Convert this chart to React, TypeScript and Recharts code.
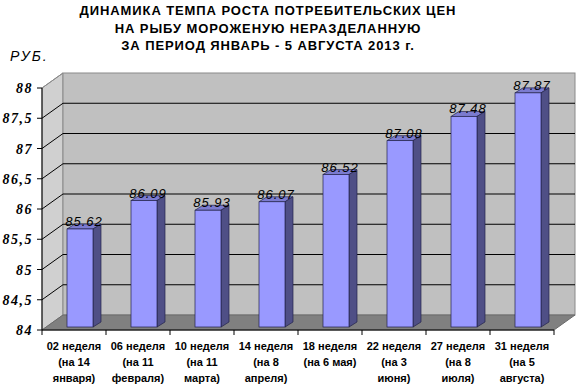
import { BarChart, Bar, XAxis, YAxis, CartesianGrid, ReferenceArea, LabelList } from 'recharts';

const WEEKS = ['02 неделя', '06 неделя', '10 неделя', '14 неделя', '18 неделя', '22 неделя', '27 неделя', '31 неделя'];
const DATES = [
  ['(на 14', 'января)'],
  ['(на 11', 'февраля)'],
  ['(на 11', 'марта)'],
  ['(на 8', 'апреля)'],
  ['(на 6 мая)'],
  ['(на 3', 'июня)'],
  ['(на 8', 'июля)'],
  ['(на 5', 'августа)'],
];
const PRICES = [85.62, 86.09, 85.93, 86.07, 86.52, 87.08, 87.48, 87.87];
const Y_TICKS = [84, 84.5, 85, 85.5, 86, 86.5, 87, 87.5, 88];

const data = WEEKS.map((w, i) => ({ name: w, dates: DATES[i], value: PRICES[i] }));

// 3d depth of the walls and of the bars
const DX = 21;
const DY = 15;
const BDX = 8;
const BDY = 5;
const SHIFT_X = 6;
const SHIFT_Y = -3;

const SANS = '"Liberation Sans", Arial, sans-serif';

function Walls(props: any) {
  const { x, y, width, height } = props;
  const b = y + height;
  const r = x + width;
  return (
    <g>
      <polygon
        points={`${x},${y} ${x + DX},${y - DY} ${x + DX},${b - DY} ${x},${b}`}
        fill="#d0d0d0"
        stroke="#8a8a8a"
        strokeWidth={1}
      />
      <rect x={x + DX} y={y - DY} width={width} height={height} fill="#c0c0c0" stroke="#8a8a8a" strokeWidth={1} />
      <polygon
        points={`${x},${b} ${x + DX},${b - DY} ${r + DX},${b - DY} ${r},${b}`}
        fill="#808080"
        stroke="#6a6a6a"
        strokeWidth={1}
      />
    </g>
  );
}

function GridLine(props: any) {
  const { x1, x2, y1, index } = props;
  const last = index === Y_TICKS.length - 1;
  if (index === 0) return <g />;
  return (
    <g>
      <line x1={x1} y1={y1} x2={x1 + DX} y2={y1 - DY} stroke={last ? '#8a8a8a' : '#000'} strokeWidth={1} />
      {!last && <line x1={x1 + DX} y1={y1 - DY} x2={x2 + DX} y2={y1 - DY} stroke="#000" strokeWidth={1} />}
    </g>
  );
}

function Bar3D(props: any) {
  const { x, y, width, height } = props;
  const fx = x + SHIFT_X;
  const fy = y + SHIFT_Y;
  const w = width;
  const h = height;
  return (
    <g stroke="#22224a" strokeWidth={0.7}>
      <polygon points={`${fx},${fy} ${fx + BDX},${fy - BDY} ${fx + w + BDX},${fy - BDY} ${fx + w},${fy}`} fill="#7b7bd0" />
      <polygon
        points={`${fx + w},${fy} ${fx + w + BDX},${fy - BDY} ${fx + w + BDX},${fy + h - BDY} ${fx + w},${fy + h}`}
        fill="#4f4f86"
      />
      <rect x={fx} y={fy} width={w} height={h} fill="#9999ff" />
    </g>
  );
}

function ValueLabel(props: any) {
  const { x, y, width, value } = props;
  return (
    <text
      x={x + SHIFT_X + width / 2 + BDX / 2}
      y={y + SHIFT_Y - 3}
      textAnchor="middle"
      fontFamily={SANS}
      fontStyle="italic"
      fontSize={13}
      letterSpacing={1}
      fill="#000"
    >
      {Number(value).toFixed(2)}
    </text>
  );
}

function ValueTick(props: any) {
  const { x, y, payload } = props;
  return (
    <text
      x={x - 2}
      y={y + 5}
      textAnchor="end"
      style={{ fontFamily: 'Liberation Serif', fontWeight: 700, fontStyle: 'italic', fontSize: 14, letterSpacing: 1.5 }}
      fill="#000"
    >
      {String(payload.value).replace('.', ',')}
    </text>
  );
}

function CategoryTick(props: any) {
  const { x, y, index, payload, width } = props;
  const half = width / WEEKS.length / 2;
  const lines = [payload.value, ...DATES[index]];
  return (
    <g>
      <line x1={x - half} y1={y - 8} x2={x - half} y2={y - 3} stroke="#000" />
      {index === WEEKS.length - 1 && <line x1={x + half} y1={y - 8} x2={x + half} y2={y - 3} stroke="#000" />}
      <text x={x} y={y} textAnchor="middle" fontFamily={SANS} fontWeight="bold" fontSize={11} fill="#000">
        {lines.map((t: string, i: number) => (
          <tspan key={i} x={x} dy={i === 0 ? 12 : 16}>
            {t}
          </tspan>
        ))}
      </text>
    </g>
  );
}

export default function App() {
  return (
    <div style={{ position: 'absolute', left: 0, top: 0, width: 580, height: 384, background: '#fff' }}>
      <div
        style={{
          position: 'absolute',
          left: 0,
          top: 2,
          width: 536,
          textAlign: 'center',
          fontFamily: SANS,
          fontWeight: 'bold',
          fontSize: 13,
          lineHeight: '17.5px',
          letterSpacing: 0.9,
          color: '#000',
        }}
      >
        <div>ДИНАМИКА ТЕМПА РОСТА ПОТРЕБИТЕЛЬСКИХ ЦЕН</div>
        <div>НА РЫБУ МОРОЖЕНУЮ НЕРАЗДЕЛАННУЮ</div>
        <div>ЗА ПЕРИОД ЯНВАРЬ - 5 АВГУСТА 2013 г.</div>
      </div>
      <div
        style={{
          position: 'absolute',
          left: 10,
          top: 48,
          fontFamily: SANS,
          fontStyle: 'italic',
          fontSize: 14,
          letterSpacing: 2,
          color: '#000',
        }}
      >
        РУБ.
      </div>
      <BarChart width={580} height={384} data={data} margin={{ top: 88, right: 26, left: 6, bottom: 4 }}>
        <ReferenceArea y1={84} y2={88} shape={<Walls />} ifOverflow="extendDomain" zIndex={-200} />
        <CartesianGrid vertical={false} horizontal={<GridLine />} zIndex={-150} />
        <XAxis
          dataKey="name"
          interval={0}
          height={50}
          tickLine={false}
          axisLine={{ stroke: '#000' }}
          tick={<CategoryTick />}
        />
        <YAxis
          domain={[84, 88]}
          ticks={Y_TICKS}
          width={36}
          axisLine={{ stroke: '#000' }}
          tickLine={{ stroke: '#000' }}
          tickSize={5}
          tick={<ValueTick />}
        />
        <Bar dataKey="value" barSize={26} shape={<Bar3D />} isAnimationActive={false}>
          <LabelList dataKey="value" content={<ValueLabel />} />
        </Bar>
      </BarChart>
    </div>
  );
}
